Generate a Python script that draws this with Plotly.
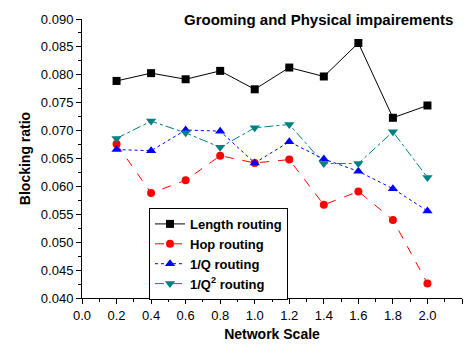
import plotly.graph_objects as go

x_scale = [0.2, 0.4, 0.6, 0.8, 1.0, 1.2, 1.4, 1.6, 1.8, 2.0]
length_routing = [0.0789, 0.0803, 0.0792, 0.0807, 0.0774, 0.0813, 0.0797, 0.0857, 0.0723, 0.0745]
hop_routing = [0.0676, 0.0588, 0.0611, 0.0655, 0.0642, 0.0648, 0.0567, 0.0591, 0.0540, 0.0426]
q_routing = [0.0666, 0.0664, 0.0701, 0.0699, 0.0642, 0.0680, 0.0649, 0.0627, 0.0596, 0.0556]
q2_routing = [0.0686, 0.0717, 0.0696, 0.0670, 0.0705, 0.0711, 0.0641, 0.0641, 0.0698, 0.0616]

x_ticks = [0.0, 0.2, 0.4, 0.6, 0.8, 1.0, 1.2, 1.4, 1.6, 1.8, 2.0, 2.2]
y_ticks = [0.040, 0.045, 0.050, 0.055, 0.060, 0.065, 0.070, 0.075, 0.080, 0.085, 0.090]

FONT = "Arial, Liberation Sans, sans-serif"

fig = go.Figure()
fig.add_trace(go.Scatter(x=x_scale, y=length_routing, name="Length routing", mode="lines+markers",
                         line=dict(color="black", width=1), marker=dict(symbol="square", size=8, color="black")))
fig.add_trace(go.Scatter(x=x_scale, y=hop_routing, name="Hop routing", mode="lines+markers",
                         line=dict(color="#ff0000", width=1, dash="dash"), marker=dict(symbol="circle", size=8, color="#ff0000")))
fig.add_trace(go.Scatter(x=x_scale, y=q_routing, name="1/Q routing", mode="lines+markers",
                         line=dict(color="#0000ff", width=1, dash="dot"), marker=dict(symbol="triangle-up", size=9, color="#0000ff")))
fig.add_trace(go.Scatter(x=x_scale, y=q2_routing, name="1/Q<sup>2</sup> routing", mode="lines+markers",
                         line=dict(color="#008080", width=1, dash="dashdot"), marker=dict(symbol="triangle-down", size=9, color="#008080")))

# page body has an 8px margin; figure is sized so everything fits in the 474x354 window
fig.update_layout(
    width=458, height=338,
    margin=dict(l=74, r=4, t=8, b=48),
    paper_bgcolor="white", plot_bgcolor="white",
    font=dict(family=FONT, size=13, color="black"),
    showlegend=True,
    legend=dict(x=(149-82)/380, y=(298-207)/282, xanchor="left", yanchor="top",
                bordercolor="black", borderwidth=1, bgcolor="white",
                font=dict(family=FONT, size=13, color="black", weight="bold"),
                tracegroupgap=0, itemwidth=30),
    annotations=[dict(text="<b>Grooming and Physical impairements</b>", xref="paper", yref="paper",
                      x=(455-82)/380, y=1.0, xanchor="right", yanchor="middle", showarrow=False,
                      font=dict(family=FONT, size=15, color="black"))],
)
fig.update_xaxes(range=[0, 2.2], tickvals=x_ticks, ticktext=[f"{v:.1f}" for v in x_ticks],
                 showgrid=False, zeroline=False, showline=True, linecolor="black", linewidth=1,
                 ticks="outside", ticklen=5, tickcolor="black",
                 minor=dict(dtick=0.1, ticks="outside", ticklen=3, tickcolor="black"),
                 title=dict(text="<b>Network Scale</b>", font=dict(size=14), standoff=7))
fig.update_yaxes(range=[0.040, 0.090], tickvals=y_ticks, ticktext=[f"{v:.3f}" for v in y_ticks],
                 showgrid=False, zeroline=False, showline=True, linecolor="black", linewidth=1,
                 ticks="outside", ticklen=5, tickcolor="black",
                 minor=dict(dtick=0.0025, ticks="outside", ticklen=3, tickcolor="black"),
                 title=dict(text="<b>Blocking ratio</b>", font=dict(size=14), standoff=6))

fig.write_html("out.html")
